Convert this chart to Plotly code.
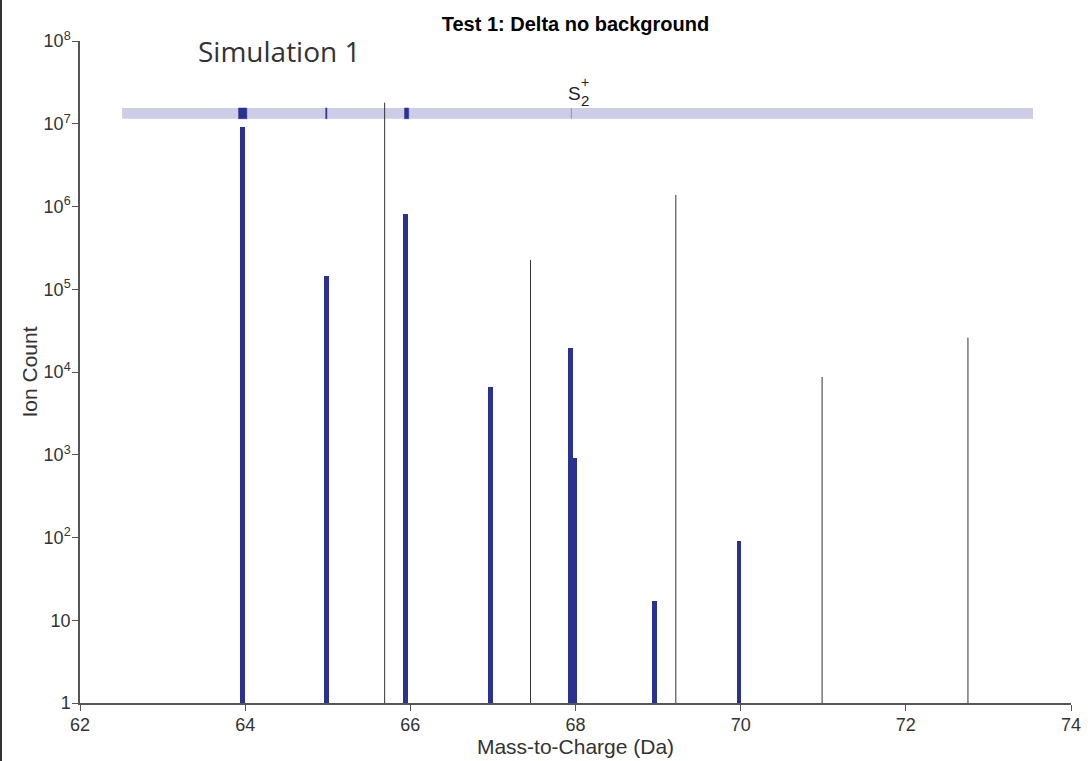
import math
import plotly.graph_objects as go

# Simulated peak histogram (Mass-to-Charge in Da, ion counts)
peak_mz = [63.966, 64.988, 65.940, 66.967, 67.937, 67.995, 68.958, 69.980]
peak_counts = [9.1e6, 1.45e5, 8.1e5, 6.6e3, 1.95e4, 920, 16, 91]
peak_width = 0.058

# Reference marker lines
ref_mz = [65.689, 67.455, 69.215, 70.986, 72.752]
ref_counts = [1.8e7, 2.25e5, 1.38e6, 8.7e3, 2.6e4]

# Ranging band and the ranges marked on it
band_mz = [62.51, 73.54]
band_counts = [1.15e7, 1.55e7]
range_lo = [63.92, 64.975, 65.93]
range_hi = [64.02, 64.99, 65.98]
ion_mz = 67.95

y_tickvals = [1, 10, 1e2, 1e3, 1e4, 1e5, 1e6, 1e7, 1e8]
y_ticktext = ["1", "10", "10<sup>2</sup>", "10<sup>3</sup>", "10<sup>4</sup>",
              "10<sup>5</sup>", "10<sup>6</sup>", "10<sup>7</sup>", "10<sup>8</sup>"]
x_tickvals = [62, 64, 66, 68, 70, 72, 74]

BLUE = "#2b3190"
BAND = "#cdcde7"
AXIS = "#555555"
FONT = "Liberation Sans, Arial, sans-serif"

fig = go.Figure()

# Band across the top
fig.add_trace(go.Scatter(
    x=[band_mz[0], band_mz[1], band_mz[1], band_mz[0], band_mz[0]],
    y=[band_counts[0], band_counts[0], band_counts[1], band_counts[1], band_counts[0]],
    fill="toself", fillcolor=BAND, mode="lines", line=dict(width=0),
    hoverinfo="skip", showlegend=False))

# Ranges drawn on the band
for lo, hi in zip(range_lo, range_hi):
    fig.add_trace(go.Scatter(
        x=[lo, hi, hi, lo, lo],
        y=[band_counts[0], band_counts[0], band_counts[1], band_counts[1], band_counts[0]],
        fill="toself", fillcolor=BLUE, mode="lines", line=dict(width=0.5, color=BLUE),
        hoverinfo="skip", showlegend=False))

# Ion position on the band
fig.add_trace(go.Scatter(
    x=[ion_mz, ion_mz], y=band_counts, mode="lines",
    line=dict(color="#9090c4", width=1), hoverinfo="skip", showlegend=False))

# Peak bars
fig.add_trace(go.Bar(
    x=peak_mz, y=peak_counts, base=1, width=peak_width,
    marker=dict(color=BLUE, line=dict(width=0)), showlegend=False))

# Thin reference lines
lx, ly = [], []
for m, c in zip(ref_mz, ref_counts):
    lx += [m, m, None]
    ly += [1, c, None]
fig.add_trace(go.Scatter(x=lx, y=ly, mode="lines",
                         line=dict(color="#333333", width=1),
                         hoverinfo="skip", showlegend=False))

# Ion label S2+
label_y = math.log10(band_counts[1])
fig.add_annotation(x=ion_mz, y=label_y, text="S", showarrow=False,
                   xanchor="center", yanchor="bottom", yshift=2, xshift=3,
                   font=dict(family=FONT, size=19, color="#222222"))
fig.add_annotation(x=ion_mz, y=label_y, text="2", showarrow=False,
                   xanchor="left", yanchor="bottom", yshift=-3, xshift=8,
                   font=dict(family=FONT, size=15, color="#222222"))
fig.add_annotation(x=ion_mz, y=label_y, text="+", showarrow=False,
                   xanchor="left", yanchor="bottom", yshift=16, xshift=8,
                   font=dict(family=FONT, size=14, color="#222222"))

# Panel label
fig.add_annotation(x=0.117, y=1.0, xref="paper", yref="paper", text="Simulation 1",
                   showarrow=False, xanchor="left", yanchor="middle", yshift=-10,
                   font=dict(family="Open Sans, Noto Sans, sans-serif", size=28, color="#333333"))

# Frame line on the left edge
fig.add_shape(type="line", xref="paper", yref="paper",
              x0=-79 / 991, x1=-79 / 991, y0=-60 / 662, y1=1 + 45 / 662,
              line=dict(color="#333333", width=2))

fig.update_layout(
    width=1088, height=761,
    margin=dict(l=80, r=17, t=41, b=58, autoexpand=False),
    paper_bgcolor="white", plot_bgcolor="white",
    bargap=0,
    title=dict(text="<b>Test 1: Delta no background</b>", x=0.5, xref="paper",
               y=1 - 24 / 761, yanchor="middle", automargin=False,
               font=dict(family=FONT, size=20, color="black")),
    font=dict(family=FONT, size=18, color="#333333"),
    xaxis=dict(range=[62, 74], tickvals=x_tickvals, ticks="outside", ticklen=6,
               tickcolor=AXIS, showline=True, linecolor=AXIS, linewidth=1.5,
               showgrid=False, zeroline=False, automargin=False,
               ticklabelstandoff=-1,
               title=dict(text="Mass-to-Charge (Da)", standoff=4,
                          font=dict(size=21, color="#333333")),
               tickfont=dict(size=18, color="#333333")),
    yaxis=dict(type="log", range=[0, 8], tickvals=y_tickvals, ticktext=y_ticktext,
               ticks="outside", ticklen=6, tickcolor=AXIS, showline=True,
               linecolor=AXIS, linewidth=1.5, showgrid=False, zeroline=False,
               automargin=False, ticklabelstandoff=-2,
               title=dict(text="Ion Count", standoff=0,
                          font=dict(size=21, color="#333333")),
               tickfont=dict(size=18, color="#333333")),
)

fig.write_html("out.html")
